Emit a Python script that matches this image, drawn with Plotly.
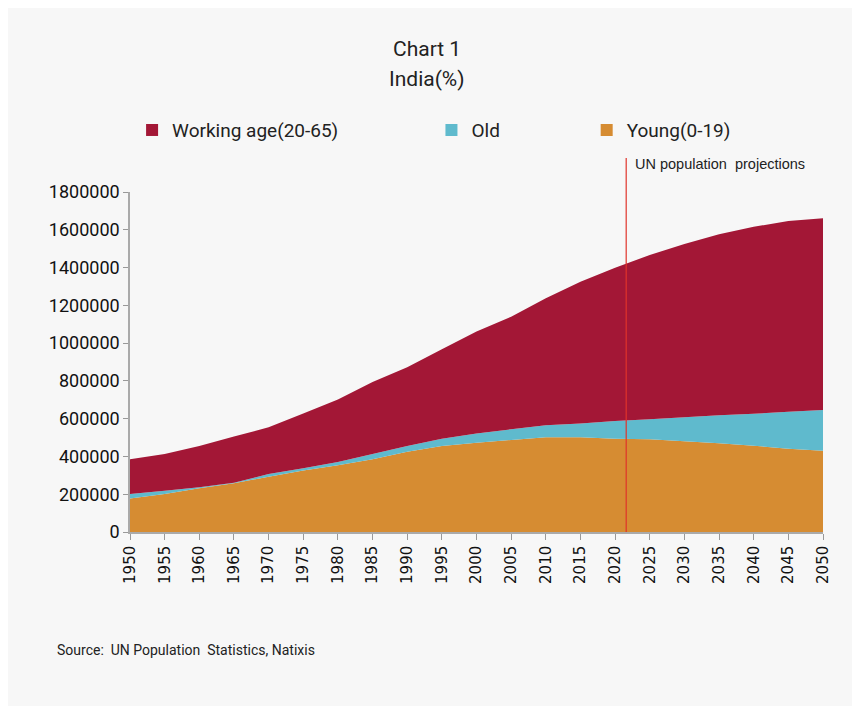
import plotly.graph_objects as go

# India population by age group (thousands)
years = [1950, 1955, 1960, 1965, 1970, 1975, 1980, 1985, 1990, 1995, 2000,
         2005, 2010, 2015, 2020, 2025, 2030, 2035, 2040, 2045, 2050]
young = [178000, 201000, 231000, 258000, 293000, 325000, 353000, 385000, 425000, 455000, 473000,
         487000, 501000, 501000, 494000, 491000, 480000, 470000, 457000, 441000, 430000]
old = [23000, 18000, 6000, 3000, 14000, 12000, 18000, 28000, 30000, 39000, 49000,
       57000, 64000, 74000, 94000, 106000, 127000, 148000, 169000, 196000, 216000]
working = [184000, 194000, 218000, 244000, 247000, 291000, 331000, 381000, 417000, 473000, 540000,
           596000, 672000, 750000, 811000, 869000, 918000, 958000, 990000, 1009000, 1015000]
projection_start = 2021.6

font = "Roboto, sans-serif"
colors = {"Working age(20-65)": "#a31736", "Old": "#5fbacd", "Young(0-19)": "#d68c32"}

fig = go.Figure()
fig.add_trace(go.Scatter(x=years, y=young, name="Young(0-19)", stackgroup="pop",
                         mode="none", fillcolor=colors["Young(0-19)"], showlegend=False))
fig.add_trace(go.Scatter(x=years, y=old, name="Old", stackgroup="pop",
                         mode="none", fillcolor=colors["Old"], showlegend=False))
fig.add_trace(go.Scatter(x=years, y=working, name="Working age(20-65)", stackgroup="pop",
                         mode="none", fillcolor=colors["Working age(20-65)"], showlegend=False))

# square legend keys, each in its own legend box
for name, lg in [("Working age(20-65)", "legend"), ("Old", "legend2"), ("Young(0-19)", "legend3")]:
    fig.add_trace(go.Scatter(x=[None], y=[None], name=name, mode="markers", legend=lg,
                             marker=dict(symbol="square", size=12, color=colors[name]),
                             showlegend=True))

fig.add_shape(type="line", xref="x", yref="paper", x0=projection_start, x1=projection_start,
              y0=0, y1=1.1, line=dict(color="#e0332b", width=1.2))
fig.add_annotation(x=projection_start, y=1.1, xref="x", yref="paper", xanchor="left",
                   yanchor="top", xshift=7, yshift=4, text="UN population  projections",
                   showarrow=False, font=dict(family="Liberation Sans, Arial", size=14.5, color="#222"))
fig.add_annotation(x=-0.108, y=-0.346, xref="paper", yref="paper", xanchor="left",
                   yanchor="middle", text="Source:  UN Population  Statistics, Natixis",
                   showarrow=False, font=dict(family=font, size=14, color="#222"))
fig.add_annotation(x=0.4286, y=1.42, xref="paper", yref="paper", yanchor="middle",
                   text="Chart 1", showarrow=False, font=dict(family=font, size=21, color="#222"))
fig.add_annotation(x=0.4286, y=1.331, xref="paper", yref="paper", yanchor="middle",
                   text="India(%)", showarrow=False, font=dict(family=font, size=21, color="#222"))

legend_common = dict(orientation="h", yanchor="middle", y=1.182, xanchor="left",
                     bgcolor="rgba(0,0,0,0)", font=dict(family=font, size=19, color="#222"),
                     itemwidth=30, tracegroupgap=0)
fig.update_layout(
    width=852, height=698,
    showlegend=True,
    paper_bgcolor="#f7f7f7", plot_bgcolor="#f7f7f7",
    margin=dict(l=122, r=37, t=184, b=174),
    legend=dict(x=0.003, **legend_common),
    legend2=dict(x=0.435, **legend_common),
    legend3=dict(x=0.659, **legend_common),
    xaxis=dict(range=[1950, 2050], tickmode="array", tickvals=years,
               ticktext=[str(y) for y in years], tickangle=-90,
               ticks="outside", ticklen=6, tickcolor="#999", showline=True,
               linecolor="#aaa", linewidth=1.5, showgrid=False, zeroline=False,
               tickfont=dict(family="DejaVu Sans", size=15, color="#111")),
    yaxis=dict(range=[0, 1800000], dtick=200000, tickformat="d",
               ticks="outside", ticklen=5, tickcolor="#999", showline=True,
               linecolor="#aaa", linewidth=1.5, showgrid=False, zeroline=False,
               tickfont=dict(family=font, size=18, color="#111")),
)

fig.write_html("out.html")
